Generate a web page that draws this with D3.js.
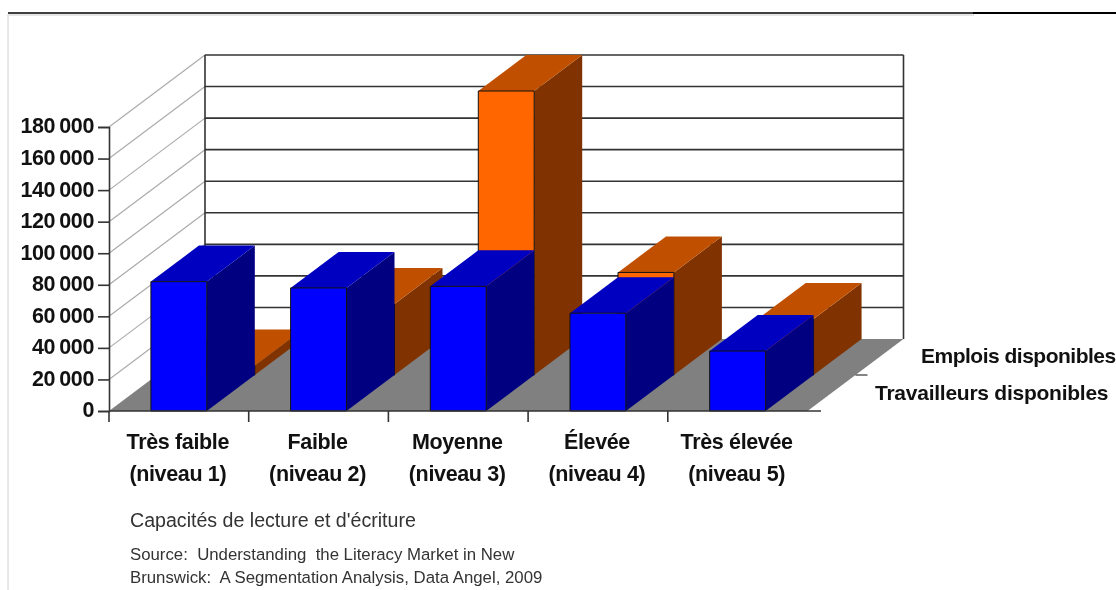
<!DOCTYPE html>
<html>
<head>
<meta charset="utf-8">
<script src="https://cdn.jsdelivr.net/npm/d3@7"></script>
<style>
  html, body { margin: 0; padding: 0; background: #fff; overflow: hidden; }
  svg { display: block; filter: blur(0.45px); }
  text { font-family: "Liberation Sans", Arial, sans-serif; }
</style>
</head>
<body>
<div id="chart-area"></div>
<script>
// values
var categories = ["Très faible", "Faible", "Moyenne", "Élevée", "Très élevée"];
var levels = ["(niveau 1)", "(niveau 2)", "(niveau 3)", "(niveau 4)", "(niveau 5)"];
var seriesNames = ["Travailleurs disponibles", "Emplois disponibles"];
var travailleurs = [82000, 78000, 79000, 62000, 38000];
var emplois = [6000, 45000, 180000, 65000, 35500];
var yTicks = [0, 20000, 40000, 60000, 80000, 100000, 120000, 140000, 160000, 180000];
var axisTitle = "Capacités de lecture et d'écriture";
var sourceLines = ["Source:  Understanding  the Literacy Market in New", "Brunswick:  A Segmentation Analysis, Data Angel, 2009"];

var width = 1116, height = 590;
var depthX = 96, depthY = 72; // how far the back wall sits from the front plane

var svg = d3.select("#chart-area").append("svg").attr("width", width).attr("height", height);

var x = d3.scaleBand().domain(categories).range([109, 807.5]).paddingInner(0.6).paddingOuter(0.3);
var y = d3.scaleLinear().domain([0, 180000]).range([411, 127]);
var z = d3.scaleBand().domain(seriesNames).range([0, 1]);

// front plane coordinates + depth (0..1) to screen
function pt(px, v, d) { return [px + d * depthX, y(v) - d * depthY]; }
function poly(points) { return points.map(function(p) { return p.join(","); }).join(" "); }

// page frame
svg.append("line").attr("x1", 8).attr("x2", 8).attr("y1", 14).attr("y2", 590).attr("stroke", "#d0d0d0").attr("stroke-width", 1);
svg.append("line").attr("x1", 9).attr("x2", 974).attr("y1", 15).attr("y2", 15).attr("stroke", "#e6e6e6").attr("stroke-width", 2);
svg.append("line").attr("x1", 8).attr("x2", 974).attr("y1", 13).attr("y2", 13).attr("stroke", "#000").attr("stroke-width", 1.5);
svg.append("line").attr("x1", 973).attr("x2", 1116).attr("y1", 13).attr("y2", 13).attr("stroke", "#000").attr("stroke-width", 2.2);

var x0 = x.range()[0], x1 = x.range()[1];

// floor
svg.append("polygon")
  .attr("points", poly([pt(x0, 0, 0), pt(x0, 0, 1), pt(x1, 0, 1), pt(x1, 0, 0)]))
  .attr("fill", "#808080");

// walls grid
var grid = svg.append("g");
grid.selectAll(".side").data(yTicks.slice(1)).enter().append("line")
  .attr("class", "side")
  .attr("x1", pt(x0, 0, 0)[0]).attr("x2", pt(x0, 0, 1)[0])
  .attr("y1", function(d) { return pt(x0, d, 0)[1]; })
  .attr("y2", function(d) { return pt(x0, d, 1)[1]; })
  .attr("stroke", "#aaa").attr("stroke-width", 1.2);
grid.selectAll(".back").data(yTicks.slice(1)).enter().append("line")
  .attr("class", "back")
  .attr("x1", pt(x0, 0, 1)[0]).attr("x2", pt(x1, 0, 1)[0])
  .attr("y1", function(d) { return pt(x0, d, 1)[1]; })
  .attr("y2", function(d) { return pt(x0, d, 1)[1]; })
  .attr("stroke", "#333").attr("stroke-width", 1.6);
grid.append("line")
  .attr("x1", pt(x0, 0, 1)[0]).attr("x2", pt(x0, 0, 1)[0])
  .attr("y1", pt(x0, 0, 1)[1]).attr("y2", pt(x0, 180000, 1)[1])
  .attr("stroke", "#333").attr("stroke-width", 1.6);
grid.append("line")
  .attr("x1", pt(x1, 0, 1)[0]).attr("x2", pt(x1, 0, 1)[0])
  .attr("y1", pt(x1, 0, 1)[1]).attr("y2", pt(x1, 180000, 1)[1])
  .attr("stroke", "#333").attr("stroke-width", 1.6);

// bars, back row first
function drawRow(name, values, colors) {
  var d0 = z(name), d1 = d0 + z.bandwidth();
  var bars = svg.append("g").selectAll("g").data(values).enter().append("g");
  function left(d, i) { return x(categories[i]); }
  function right(d, i) { return x(categories[i]) + x.bandwidth(); }

  bars.append("polygon")
    .attr("points", function(d, i) {
      return poly([pt(right(d, i), 0, d0), pt(right(d, i), 0, d1), pt(right(d, i), d, d1), pt(right(d, i), d, d0)]);
    })
    .attr("fill", colors.side);
  bars.append("polygon")
    .attr("points", function(d, i) {
      return poly([pt(left(d, i), d, d0), pt(left(d, i), d, d1), pt(right(d, i), d, d1), pt(right(d, i), d, d0)]);
    })
    .attr("fill", colors.top);
  bars.append("polygon")
    .attr("points", function(d, i) {
      return poly([pt(left(d, i), 0, d0), pt(left(d, i), d, d0), pt(right(d, i), d, d0), pt(right(d, i), 0, d0)]);
    })
    .attr("fill", colors.front).attr("stroke", "#111").attr("stroke-width", 1);
}
drawRow(seriesNames[1], emplois, { front: "#ff6600", top: "#c05000", side: "#803300" });
drawRow(seriesNames[0], travailleurs, { front: "#0000ff", top: "#0000c0", side: "#000080" });

// y axis
var yAxis = d3.axisLeft(y).tickValues(yTicks).tickSize(11).tickPadding(4)
  .tickFormat(function(d) { return d3.format(",")(d).replace(",", "\u2009"); });
var gy = svg.append("g").attr("transform", "translate(" + x0 + ",-1)").call(yAxis);
gy.selectAll("line, path").attr("stroke", "#333").attr("stroke-width", 1.6).attr("transform", "translate(0,1)");
gy.selectAll("text").attr("fill", "#111").attr("font-size", 21.5).attr("font-weight", "bold")
  .attr("font-family", "Liberation Sans").attr("letter-spacing", -0.35);

// x axis
svg.append("line").attr("x1", x0).attr("x2", 821).attr("y1", y(0)).attr("y2", y(0)).attr("stroke", "#333").attr("stroke-width", 1.6);
svg.append("g").selectAll("line").data(categories).enter().append("line")
  .attr("x1", function(d) { return x(d) - x.step() * x.paddingOuter(); })
  .attr("x2", function(d) { return x(d) - x.step() * x.paddingOuter(); })
  .attr("y1", y(0)).attr("y2", y(0) + 11)
  .attr("stroke", "#333").attr("stroke-width", 1.6);

var labels = svg.append("g").attr("text-anchor", "middle").attr("font-size", 21.5).attr("font-weight", "bold").attr("fill", "#111");
labels.selectAll(".cat").data(categories).enter().append("text")
  .attr("class", "cat")
  .attr("x", function(d) { return x(d) + x.bandwidth() / 2 - 1; })
  .attr("y", 449).attr("letter-spacing", -0.35)
  .text(function(d) { return d; });
labels.selectAll(".lvl").data(levels).enter().append("text")
  .attr("class", "lvl")
  .attr("x", function(d, i) { return x(categories[i]) + x.bandwidth() / 2 - 1; })
  .attr("y", 481).attr("letter-spacing", -0.35)
  .text(function(d) { return d; });

// series axis on the right edge of the floor
var mid = pt(x1, 0, z(seriesNames[1]));
svg.append("line").attr("x1", mid[0]).attr("x2", mid[0] + 12).attr("y1", mid[1]).attr("y2", mid[1])
  .attr("stroke", "#333").attr("stroke-width", 1.2);
svg.append("text").attr("x", 921).attr("y", 363).attr("font-size", 21).attr("font-weight", "bold").attr("fill", "#111")
  .attr("letter-spacing", -0.5).text(seriesNames[1]);
svg.append("text").attr("x", 875).attr("y", 400).attr("font-size", 21).attr("font-weight", "bold").attr("fill", "#111")
  .attr("letter-spacing", -0.25).text(seriesNames[0]);

// axis title + source
svg.append("text").attr("x", 130).attr("y", 527).attr("font-size", 19.6).attr("fill", "#333").text(axisTitle);
svg.append("g").selectAll("text").data(sourceLines).enter().append("text")
  .attr("x", 130).attr("y", function(d, i) { return 560 + i * 23; })
  .attr("font-size", 16.8).attr("fill", "#333").style("white-space", "pre")
  .text(function(d) { return d; });
</script>
</body>
</html>
